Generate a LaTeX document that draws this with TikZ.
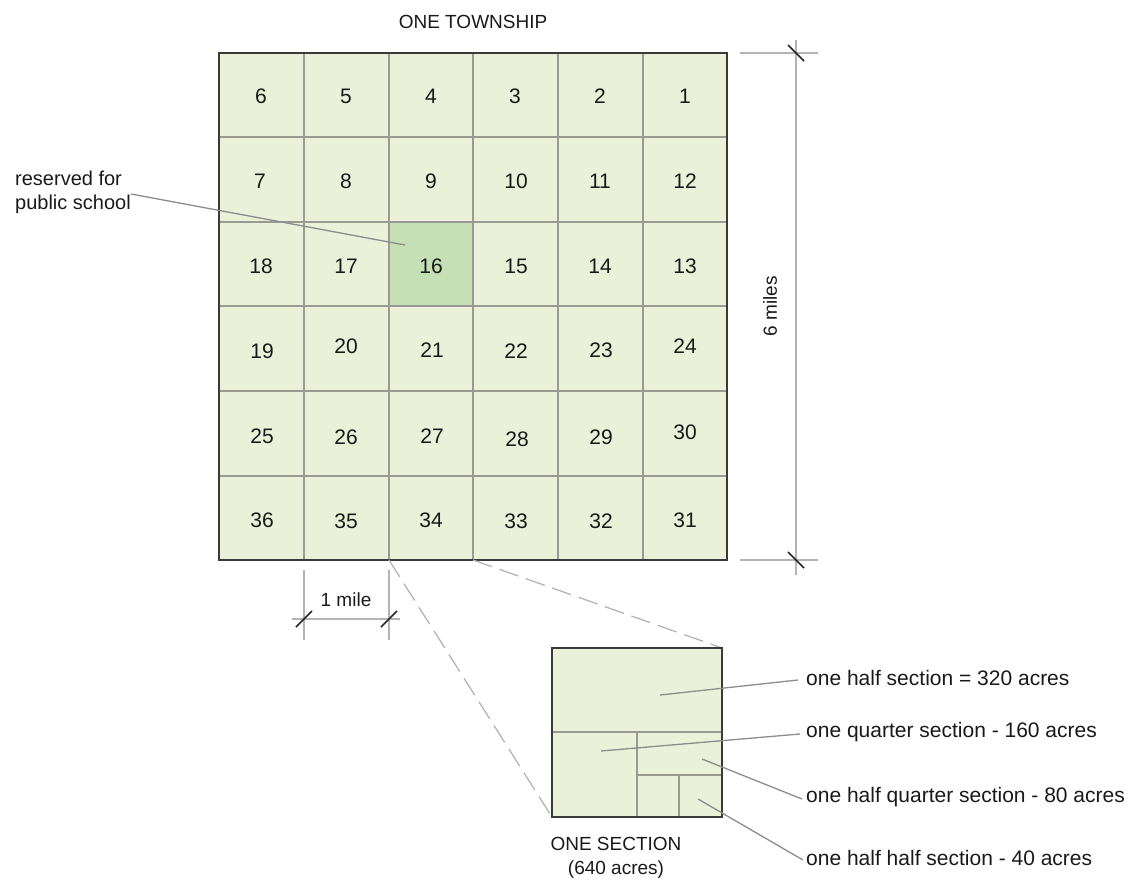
\documentclass[tikz,border=0pt]{standalone}
\usepackage{fontspec}
\setmainfont{Liberation Sans}
\definecolor{landfill}{HTML}{EBF1D8}
\definecolor{schoolfill}{HTML}{C4E0B4}
\definecolor{gridgray}{HTML}{9A9A92}
\definecolor{edgegray}{HTML}{3A3A3A}
\definecolor{leadgray}{HTML}{8C8C8C}
\definecolor{dimgray}{HTML}{B4B4B4}
\begin{document}
\begin{tikzpicture}[x=1pt,y=-1pt,
  lbl/.style={font=\fontsize{19}{24}\selectfont, inner sep=0pt, text=black!90},
  biglbl/.style={font=\fontsize{21}{25}\selectfont, inner sep=0pt, text=black!90},
  num/.style={font=\fontsize{21}{24}\selectfont, inner sep=0pt, text=black!90},
  gridline/.style={draw=gridgray, line width=1.1pt},
  border/.style={draw=edgegray, line width=1.8pt},
  leader/.style={draw=leadgray, line width=1.3pt},
  extline/.style={draw=dimgray, line width=1.2pt},
  dimtick/.style={draw=black!85, line width=1.7pt},
  zoomline/.style={draw=dimgray, line width=1.3pt, dash pattern=on 20pt off 8pt}]
\useasboundingbox (0,0) rectangle (1132,888);

% township of 36 sections
\fill[landfill] (219,53) rectangle (727,560);
\fill[schoolfill] (389,222) rectangle (473,306);
\foreach \x in {304,389,473,558,643} \draw[gridline] (\x,53) -- (\x,560);
\foreach \y in {137,222,306,391,476} \draw[gridline] (219,\y) -- (727,\y);
\draw[border] (219,53) rectangle (727,560);
\coordinate (s34SW) at (389,560);
\coordinate (s34SE) at (473,560);

% section numbers
\foreach \n/\x/\y in {6/261/96,5/346/96,4/431/96,3/515/96,2/600/96,1/685/96,
  7/260/181,8/346/181,9/431/181,10/516/181,11/600/181,12/685/181,
  18/261/266,17/346/266,16/431/266,15/516/266,14/600/266,13/685/266,
  19/262/351,20/346/346,21/432/350,22/516/351,23/601/350,24/685/346,
  25/262/436,26/346/437,27/432/436,28/517/439,29/601/437,30/685/432,
  36/262/520,35/346/521,34/431/520,33/516/521,32/601/521,31/685/520}
  \node[num] (n\n) at (\x,\y) {\n};

\node[lbl] (title) at (473,22) {ONE TOWNSHIP};

% school note
\node[lbl, font=\fontsize{20}{24}\selectfont, anchor=north west, align=left] (school) at (15,171)
  {reserved for\\public school};
\coordinate (schoolA) at (131,194);
\coordinate (schoolB) at (405,245);
\draw[leader] (schoolA) -- (schoolB);

% 6 miles dimension
\coordinate (dimTop) at (796,40);
\coordinate (dimBot) at (796,575);
\draw[extline] (740,53) -- (818,53);
\draw[extline] (740,560) -- (818,560);
\draw[extline] (dimTop) -- (dimBot);
\draw[dimtick] (788,45) -- (804,61);
\draw[dimtick] (788,552) -- (804,568);
\node[lbl, rotate=90] (sixmiles) at (770,306) {6 miles};

% 1 mile dimension
\draw[extline] (304,570) -- (304,640);
\draw[extline] (389,570) -- (389,640);
\draw[extline] (292,619) -- (400,619);
\draw[dimtick] (296,627) -- (312,611);
\draw[dimtick] (381,627) -- (397,611);
\node[lbl] (onemile) at (346,600) {1 mile};

% one section, enlarged
\coordinate (secSW) at (552,817);
\coordinate (secNE) at (722,648);
\draw[zoomline] (s34SW) -- (secSW);
\draw[zoomline] (s34SE) -- (secNE);
\fill[landfill] (552,648) rectangle (722,817);
\draw[gridline] (552,732) -- (722,732);
\draw[gridline] (637,732) -- (637,817);
\draw[gridline] (637,775) -- (722,775);
\draw[gridline] (679,775) -- (679,817);
\draw[border] (552,648) rectangle (722,817);

\node[lbl, align=center] (sectitle) at (616,858) {ONE SECTION\\(640 acres)};

% subdivision labels
\node[biglbl, anchor=west] (half) at (806,678) {one half section = 320 acres};
\node[biglbl, anchor=west] (quarter) at (806,732) {one quarter section - 160 acres};
\node[biglbl, anchor=west] (halfq) at (806,797) {one half quarter section - 80 acres};
\node[biglbl, anchor=west] (halfh) at (806,858) {one half half section - 40 acres};
\coordinate (pHalf) at (660,695);
\coordinate (pQuarter) at (601,751);
\coordinate (pHalfQ) at (702,759);
\coordinate (pHalfH) at (698,799);
\draw[leader] (pHalf) -- ([xshift=-8pt,yshift=-2pt]half.west);
\draw[leader] (pQuarter) -- ([xshift=-6pt,yshift=-2pt]quarter.west);
\draw[leader] (pHalfQ) -- ([xshift=-4pt,yshift=-2pt]halfq.west);
\draw[leader] (pHalfH) -- ([xshift=-3pt,yshift=-2pt]halfh.west);
\end{tikzpicture}
\end{document}
